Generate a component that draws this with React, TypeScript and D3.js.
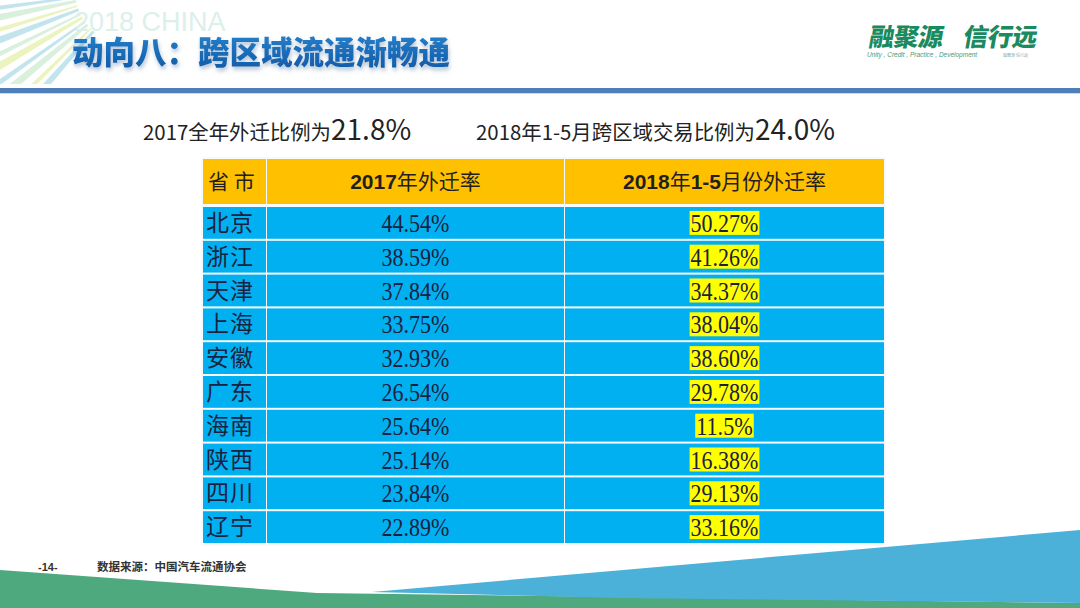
import React from "react";
import * as d3 from "d3";

const provinces = ["北京", "浙江", "天津", "上海", "安徽", "广东", "海南", "陕西", "四川", "辽宁"];
const rate2017 = ["44.54%", "38.59%", "37.84%", "33.75%", "32.93%", "26.54%", "25.64%", "25.14%", "23.84%", "22.89%"];
const rate2018 = ["50.27%", "41.26%", "34.37%", "38.04%", "38.60%", "29.78%", "11.5%", "16.38%", "29.13%", "33.16%"];
const columnKeys = ["prov", "y2017", "y2018"];
const headers = ["省 市", "2017年外迁率", "2018年1-5月份外迁率"];
const titleText = "动向八：跨区域流通渐畅通";
const summary1 = ["2017全年外迁比例为", "21.8%"];
const summary2 = ["2018年1-5月跨区域交易比例为", "24.0%"];
const sourceText = "数据来源：中国汽车流通协会";
const pageText = "-14-";

const W = 1080;
const H = 608;

function splitMixed(s: string) {
  const parts: { t: string; latin: boolean }[] = [];
  for (const ch of s) {
    const latin = /[0-9\-]/.test(ch);
    const last = parts[parts.length - 1];
    if (last && last.latin === latin) last.t += ch;
    else parts.push({ t: ch, latin });
  }
  return parts;
}

export default function App() {
  const x = d3.scaleOrdinal<string, number>().domain(columnKeys).range([203, 267, 565]);
  const colW = d3.scaleOrdinal<string, number>().domain(columnKeys).range([63, 297, 319]);
  const y = d3.scaleBand<string>().domain(provinces).range([206, 544]).paddingInner(0.06).paddingOuter(0.03);
  const headerTop = 159;
  const headerH = 45;
  const charW = 11.3;
  const textColor = "#1b2140";

  // decorative sunburst rays (top-left)
  const rayAngles = d3.range(11).map((i) => 130 + i * 4.6);
  const rcx = 130, rcy = -10, r0 = 55, r1 = 190;

  return (
    <svg width={W} height={H} style={{ position: "absolute", left: 0, top: 0, background: "#fff" }}>
      <defs>
        <linearGradient id="titleGrad" x1="0" y1="0" x2="0" y2="1">
          <stop offset="0" stopColor="#2a86d0" />
          <stop offset="1" stopColor="#0d58a6" />
        </linearGradient>
        <clipPath id="rayClip">
          <rect x={0} y={0} width={125} height={84} />
        </clipPath>
        <filter id="tshadow" x="-5%" y="-20%" width="110%" height="160%">
          <feDropShadow dx="1" dy="3" stdDeviation="2" floodColor="#6d8fb0" floodOpacity="0.55" />
        </filter>
      </defs>
      <rect x={0} y={0} width={W} height={H} fill="#ffffff" />

      {/* sunburst decoration */}
      <g opacity={0.7} clipPath="url(#rayClip)">
        {rayAngles.map((deg, i) => {
          const a0 = (deg * Math.PI) / 180;
          const a1 = ((deg + (i % 2 ? 1.8 : 2.8)) * Math.PI) / 180;
          const p = d3.path();
          p.moveTo(rcx + r0 * Math.cos(a0), rcy + r0 * Math.sin(a0));
          p.lineTo(rcx + r1 * Math.cos(a0), rcy + r1 * Math.sin(a0));
          p.lineTo(rcx + r1 * Math.cos(a1), rcy + r1 * Math.sin(a1));
          p.lineTo(rcx + r0 * Math.cos(a1), rcy + r0 * Math.sin(a1));
          p.closePath();
          const fill = i % 3 === 1 ? "#e3f0a4" : i % 3 === 2 ? "#c9ead0" : "#a9dbe6";
          return <path key={i} d={p.toString()} fill={fill} />;
        })}
      </g>
      <text x={74} y={31} fontFamily="Liberation Sans, Arial, sans-serif" fontSize={27} fill="#dcefeb">2018 CHINA</text>

      {/* title */}
      <text x={72} y={64} fontFamily="'Noto Sans CJK SC', sans-serif" fontWeight={900} fontSize={31.5}
        fill="url(#titleGrad)" filter="url(#tshadow)">{titleText}</text>

      {/* logo */}
      <g transform="translate(868,46) skewX(-10)">
        <text x={0} y={0} fontFamily="'Noto Sans CJK SC', sans-serif" fontWeight={900} fontSize={25} fill="#1a8a60" letterSpacing={-0.5}>融聚源</text>
        <text x={94} y={0} fontFamily="'Noto Sans CJK SC', sans-serif" fontWeight={900} fontSize={25} fill="#1a8a60" letterSpacing={-0.5}>信行远</text>
      </g>
      <text x={867} y={57} fontFamily="Liberation Sans, Arial, sans-serif" fontStyle="italic" fontSize={6.5} fill="#4a9a78">Unity , Credit , Practice , Development</text>
      <text x={1003} y={57} fontFamily="'Noto Sans CJK SC', sans-serif" fontSize={4} fill="#8aa">融聚源 信行远</text>

      {/* rule */}
      <rect x={0} y={88} width={W} height={5} fill="#4f7fbb" />
      <rect x={0} y={93} width={W} height={1} fill="#c9d8ea" />

      {/* summaries */}
      <text x={143} y={140} fontFamily="'Noto Sans CJK SC', sans-serif" fill="#222">
        <tspan fontSize={20.4}>{summary1[0]}</tspan>
        <tspan fontSize={28}>{summary1[1]}</tspan>
      </text>
      <text x={476} y={140} fontFamily="'Noto Sans CJK SC', sans-serif" fill="#222">
        <tspan fontSize={20.4}>{summary2[0]}</tspan>
        <tspan fontSize={28}>{summary2[1]}</tspan>
      </text>

      {/* table background / border */}
      <rect x={201} y={157} width={685} height={389} fill="#eef6fb" opacity={0.6} />
      {columnKeys.map((k, i) => (
        <g key={k}>
          <rect x={x(k)} y={headerTop} width={colW(k)} height={headerH} fill="#ffc000" />
          <text x={i === 0 ? x(k) + 5 : x(k) + colW(k) / 2} y={headerTop + headerH / 2 + 7.5}
            textAnchor={i === 0 ? "start" : "middle"} fill="#231f20" fontSize={21}>
            {splitMixed(headers[i]).map((p, j) => (
              <tspan key={j} fontFamily={p.latin ? "Liberation Sans, Arial, sans-serif" : "'Noto Sans CJK SC', sans-serif"}
                fontWeight={p.latin ? 700 : 400}>{p.t}</tspan>
            ))}
          </text>
        </g>
      ))}

      {/* table body */}
      {provinces.map((p, r) => {
        const y0 = y(p)!;
        const h = y.bandwidth();
        const cy = y0 + h / 2;
        const w17 = rate2017[r].length * charW;
        const w18 = rate2018[r].length * charW;
        const c2 = x("y2017") + colW("y2017") / 2;
        const c3 = x("y2018") + colW("y2018") / 2;
        return (
          <g key={p}>
            {columnKeys.map((k) => (
              <rect key={k} x={x(k)} y={y0} width={colW(k)} height={h} fill="#00b0f0" />
            ))}
            <text x={x("prov") + 3} y={cy + 8} fontFamily="'Noto Sans CJK SC', serif" fontSize={23} fill={textColor}
              letterSpacing={1}>{p}</text>
            <text x={c2 - w17 / 2} y={cy + 9} fontFamily="Liberation Serif, serif" fontSize={25} fill={textColor}
              textLength={w17} lengthAdjust="spacingAndGlyphs">{rate2017[r]}</text>
            <rect x={c3 - w18 / 2 - 1} y={cy - 12} width={w18 + 2} height={24} fill="#ffff00" />
            <text x={c3 - w18 / 2} y={cy + 9} fontFamily="Liberation Serif, serif" fontSize={25} fill={textColor}
              textLength={w18} lengthAdjust="spacingAndGlyphs">{rate2018[r]}</text>
          </g>
        );
      })}

      {/* bottom decoration */}
      <path d="M0,570 L317,593 L1080,603 L1080,608 L0,608 Z" fill="#4fa97e" />
      <path d="M372,592 L1080,530 L1080,603 L620,598 Z" fill="#4bb1d9" />

      {/* footer */}
      <text x={38} y={571} fontFamily="Liberation Sans, Arial, sans-serif" fontWeight={700} fontSize={11} fill="#333">{pageText}</text>
      <text x={97} y={571} fontFamily="'Noto Sans CJK SC', serif" fontWeight={700} fontSize={11.5} fill="#333">{sourceText}</text>
    </svg>
  );
}
